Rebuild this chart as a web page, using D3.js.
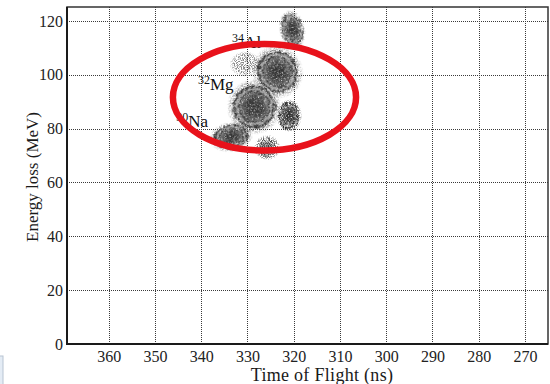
<!DOCTYPE html>
<html>
<head>
<meta charset="utf-8">
<script src="https://cdn.jsdelivr.net/npm/d3@7"></script>
<style>
  html, body { margin: 0; padding: 0; background: #fff; }
  svg { display: block; }
</style>
</head>
<body>
<svg id="chart" width="550" height="384"></svg>
<script>
// ---- data ----
const xTicks = [360, 350, 340, 330, 320, 310, 300, 290, 280, 270];
const yTicks = [0, 20, 40, 60, 80, 100, 120];
const xDomain = [369, 265];
const yDomain = [0, 125.2];

// particle-identification clusters (centre in ns / MeV, spread in ns / MeV)
const clusterTof          = [323.5, 328.5, 321.0, 320.3, 333.5, 325.7, 330.5];
const clusterEnergy       = [101.1,  88.1,  84.8, 116.7,  77.0,  73.0, 104.0];
const clusterSpreadTof    = [  4.3,   4.6,   2.2,   2.2,   3.7,   2.2,   2.6];
const clusterSpreadEnergy = [  7.8,   8.0,   4.8,   5.8,   4.4,   3.7,   3.7];
const clusterIntensity    = [  1.0,   1.0,   1.0,   1.0,   1.0,   0.6,   0.15];

// isotope labels
const labelMass   = ["34", "32", "30"];
const labelSymbol = ["Al", "Mg", "Na"];
const labelTof    = [333.3, 340.7, 345.4];
const labelEnergy = [110.0, 94.4, 80.6];

// highlighted region (red ellipse)
const highlightTof = 326.3, highlightEnergy = 91.7;
const highlightRadiusTof = 19.8, highlightRadiusEnergy = 19.8;

const xTitle = "Time of Flight (ns)";
const yTitle = "Energy loss (MeV)";

// ---- drawing ----
(function () {
const svg = d3.select("#chart");
const pL = 67, pR = 548, pT = 7, pB = 344;
const x = d3.scaleLinear().domain(xDomain).range([pL, pR]);
const y = d3.scaleLinear().domain(yDomain).range([pB, pT]);
const serif = "'Liberation Serif', 'DejaVu Serif', serif";

const defs = svg.append("defs");
// speckle texture filter
const sp = defs.append("filter").attr("id", "speckle")
  .attr("x", "-30%").attr("y", "-30%").attr("width", "160%").attr("height", "160%");
sp.append("feTurbulence").attr("type", "fractalNoise").attr("baseFrequency", 0.85)
  .attr("numOctaves", 1).attr("seed", 4).attr("result", "noise");
sp.append("feColorMatrix").attr("in", "noise").attr("type", "matrix")
  .attr("values", "0 0 0 0 0  0 0 0 0 0  0 0 0 0 0  7 0 0 0 -3.2").attr("result", "mask");
sp.append("feComposite").attr("in", "SourceGraphic").attr("in2", "mask").attr("operator", "in");

// rough edge filter
const rf = defs.append("filter").attr("id", "rough")
  .attr("x", "-20%").attr("y", "-20%").attr("width", "140%").attr("height", "140%");
rf.append("feTurbulence").attr("type", "fractalNoise").attr("baseFrequency", 0.22)
  .attr("numOctaves", 2).attr("seed", 9).attr("result", "t");
rf.append("feDisplacementMap").attr("in", "SourceGraphic").attr("in2", "t")
  .attr("scale", 6).attr("xChannelSelector", "R").attr("yChannelSelector", "G").attr("result", "d");
rf.append("feTurbulence").attr("type", "fractalNoise").attr("baseFrequency", 0.7)
  .attr("numOctaves", 1).attr("seed", 2).attr("result", "n2");
rf.append("feColorMatrix").attr("in", "n2").attr("type", "matrix")
  .attr("values", "0 0 0 0 0  0 0 0 0 0  0 0 0 0 0  3 0 0 0 -0.6").attr("result", "m2");
rf.append("feComposite").attr("in", "d").attr("in2", "m2").attr("operator", "in");

const blobGrad = defs.append("radialGradient").attr("id", "blobGrad");
[[0, "#2e2e2e"], [0.35, "#3b3b3b"], [0.55, "#555"], [0.63, "#7a7a7a"], [0.69, "#333"],
 [0.74, "#5a5a5a"], [0.8, "#b0b0b0"], [0.87, "#8a8a8a"], [0.93, "#2a2a2a"], [1, "#555"]]
  .forEach(([o, c]) => blobGrad.append("stop").attr("offset", o).attr("stop-color", c));

const haloGrad = defs.append("radialGradient").attr("id", "haloGrad");
[[0, "#333", 1], [0.7, "#444", 1], [0.85, "#666", 0.7], [1, "#888", 0]]
  .forEach(([o, c, a]) => haloGrad.append("stop").attr("offset", o)
    .attr("stop-color", c).attr("stop-opacity", a));

// gridlines
const grid = svg.append("g").attr("stroke", "#3a3a3a").attr("stroke-width", 1)
  .attr("stroke-dasharray", "1,1").attr("shape-rendering", "crispEdges");
grid.selectAll("line.v").data(xTicks).join("line").attr("class", "v")
  .attr("x1", d => Math.round(x(d)) + 0.5).attr("x2", d => Math.round(x(d)) + 0.5)
  .attr("y1", pT).attr("y2", pB);
grid.selectAll("line.h").data(yTicks.filter(d => d > 0)).join("line").attr("class", "h")
  .attr("y1", d => Math.round(y(d)) + 0.5).attr("y2", d => Math.round(y(d)) + 0.5)
  .attr("x1", pL).attr("x2", pR);

// clusters
const rotations = [-25, -20, 0, -10, -10, 0, 0];
const clusters = d3.range(clusterTof.length).map(i => ({
  cx: x(clusterTof[i]), cy: y(clusterEnergy[i]),
  rx: Math.abs(x(clusterTof[i] + clusterSpreadTof[i]) - x(clusterTof[i])),
  ry: Math.abs(y(clusterEnergy[i] + clusterSpreadEnergy[i]) - y(clusterEnergy[i])),
  k: clusterIntensity[i], rot: rotations[i]
}));
const cg = svg.append("g");
cg.selectAll("ellipse.halo").data(clusters).join("ellipse").attr("class", "halo")
  .attr("cx", d => d.cx).attr("cy", d => d.cy)
  .attr("rx", d => d.rx * 1.3).attr("ry", d => d.ry * 1.3)
  .attr("transform", d => `rotate(${d.rot},${d.cx},${d.cy})`)
  .attr("fill", "url(#haloGrad)").attr("opacity", d => d.k < 0.5 ? 0.6 : 0.9)
  .attr("filter", "url(#speckle)");
cg.selectAll("ellipse.core").data(clusters.filter(d => d.k >= 0.5)).join("ellipse").attr("class", "core")
  .attr("cx", d => d.cx).attr("cy", d => d.cy)
  .attr("rx", d => d.rx * (d.k < 1 ? 0.8 : 1)).attr("ry", d => d.ry * (d.k < 1 ? 0.8 : 1))
  .attr("transform", d => `rotate(${d.rot},${d.cx},${d.cy})`)
  .attr("fill", "url(#blobGrad)").attr("opacity", d => d.k)
  .attr("filter", "url(#rough)");

// isotope labels
const lg = svg.append("g").attr("font-family", serif).attr("fill", "#111");
labelSymbol.forEach((s, i) => {
  const t = lg.append("text").attr("x", x(labelTof[i])).attr("y", y(labelEnergy[i]))
    .attr("font-size", 17);
  t.append("tspan").attr("font-size", 12).attr("dy", -6).text(labelMass[i]);
  t.append("tspan").attr("dy", 6).text(s);
});

// frame
svg.append("rect").attr("x", pL).attr("y", pT).attr("width", pR - pL)
  .attr("height", pB - pT).attr("fill", "none").attr("stroke", "#333").attr("stroke-width", 1.5);
svg.append("path").attr("d", `M${pL},${pT}V${pB}H${pR}`)
  .attr("fill", "none").attr("stroke", "#1a1a1a").attr("stroke-width", 2);

// axes tick labels
const xAxis = d3.axisBottom(x).tickValues(xTicks).tickSize(0).tickPadding(7);
const yAxis = d3.axisLeft(y).tickValues(yTicks).tickSize(0).tickPadding(4);
const gx = svg.append("g").attr("transform", `translate(0,${pB})`).call(xAxis);
const gy = svg.append("g").attr("transform", `translate(${pL},0)`).call(yAxis);
[gx, gy].forEach(g => {
  g.select(".domain").remove();
  g.selectAll("text").attr("font-family", serif).attr("font-size", 16).attr("fill", "#222");
});

// axis titles
svg.append("text").attr("x", 322).attr("y", 381).attr("text-anchor", "middle")
  .attr("font-family", serif).attr("font-size", 18).attr("letter-spacing", 0.3)
  .attr("fill", "#1a1a1a").text(xTitle);
svg.append("text").attr("transform", "translate(38,177) rotate(-90)").attr("text-anchor", "middle")
  .attr("font-family", serif).attr("font-size", 17).attr("fill", "#1a1a1a").text(yTitle);

// highlight ellipse
svg.append("ellipse")
  .attr("cx", x(highlightTof)).attr("cy", y(highlightEnergy))
  .attr("rx", Math.abs(x(highlightTof + highlightRadiusTof) - x(highlightTof)))
  .attr("ry", Math.abs(y(highlightEnergy + highlightRadiusEnergy) - y(highlightEnergy)))
  .attr("fill", "none").attr("stroke", "#e8121b").attr("stroke-width", 6.5);

// scanning artefact at lower left
svg.append("rect").attr("x", -1).attr("y", 356).attr("width", 4).attr("height", 30)
  .attr("fill", "#e4ecf5").attr("stroke", "#b8c4d2").attr("stroke-width", 1);
})();
</script>
</body>
</html>
